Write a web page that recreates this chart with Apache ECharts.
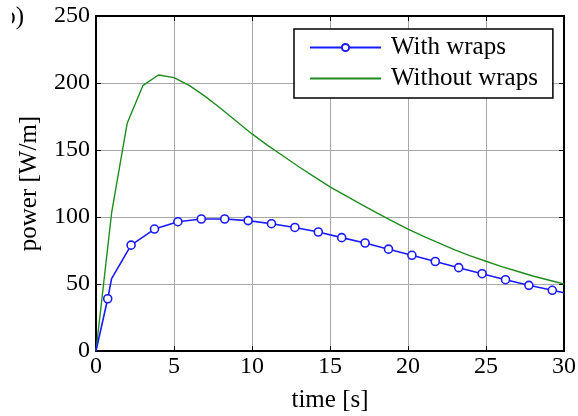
<!DOCTYPE html>
<html>
<head>
<meta charset="utf-8">
<script src="https://cdn.jsdelivr.net/npm/echarts@6/dist/echarts.min.js"></script>
<style>html,body{margin:0;padding:0;background:#fff}#c{width:578px;height:416px}</style>
</head>
<body>
<div id="c"></div>
<script>
// ---- data ----
const xTicks = [0, 5, 10, 15, 20, 25, 30];
const yTicks = [0, 50, 100, 150, 200, 250];
const seriesNames = ['With wraps', 'Without wraps'];

// With wraps (time [s], power [W/m])
const withTime  = [0, 0.75, 1.0, 2.25, 3.75, 5.25, 6.75, 8.25, 9.75, 11.25, 12.75, 14.25, 15.75, 17.25, 18.75, 20.25, 21.75, 23.25, 24.75, 26.25, 27.75, 29.25, 30];
const withPower = [0, 39, 54, 79, 91, 96.5, 98.5, 98.5, 97.3, 95, 92.2, 88.8, 84.6, 80.6, 76, 71.4, 66.8, 62.2, 57.7, 53.2, 49, 45.3, 43.5];

// Without wraps
const withoutTime  = [0, 1, 2, 3, 4, 5, 6, 7, 8, 9, 10, 11, 12, 13, 14, 15, 16, 17, 18, 19, 20, 21, 22, 23, 24, 25, 26, 27, 28, 29, 30];
const withoutPower = [0, 103, 170, 198, 206, 204, 198, 190, 181, 171.5, 162, 153.5, 145.5, 137.5, 130, 122.5, 116, 109.5, 103, 97, 91, 85.5, 80.5, 75.5, 71, 67, 63, 59.5, 56, 53, 50];

// markers are drawn every 1.5 s starting at 0.75 s
function isMarked(t) {
  const k = (t - 0.75) / 1.5;
  return Math.abs(k - Math.round(k)) < 1e-6 && k >= 0;
}
const withData = withTime.map((t, i) => isMarked(t) ? [t, withPower[i]] : { value: [t, withPower[i]], symbol: 'none' });
const withoutData = withoutTime.map((t, i) => [t, withoutPower[i]]);

const FONT = 'Liberation Serif';
const chart = echarts.init(document.getElementById('c'), null, { renderer: 'canvas' });

const baseX = { type: 'value', min: xTicks[0], max: xTicks[xTicks.length - 1], interval: 5 };
const baseY = { type: 'value', min: yTicks[0], max: yTicks[yTicks.length - 1], interval: 50 };

chart.setOption({
  backgroundColor: '#fff',
  animation: false,
  textStyle: { fontFamily: FONT },
  grid: { left: 96, right: 14, top: 16, bottom: 65, show: false, containLabel: false, outerBoundsMode: 'none' },
  graphic: [
    {
      type: 'text', x: 24, y: 5, z: 10,
      style: { text: 'b)', font: '25px "Liberation Serif"', fill: '#000', textAlign: 'right', textVerticalAlign: 'top' }
    },
    {
      type: 'rect', shape: { x: 0, y: 0, width: 12, height: 40 }, z: 11,
      style: { fill: '#fff' }
    }
  ],
  legend: {
    orient: 'vertical',
    left: 294, top: 29,
    data: [
      { name: seriesNames[0] },
      { name: seriesNames[1], itemStyle: { opacity: 0 } }
    ],
    itemWidth: 71, itemHeight: 9, itemGap: 6,
    padding: [6, 15, 7, 15],
    borderColor: '#000', borderWidth: 1.5,
    backgroundColor: '#fff',
    textStyle: { fontFamily: FONT, fontSize: 25, color: '#000', padding: [0, 0, 0, 5] }
  },
  xAxis: [
    Object.assign({}, baseX, {
      position: 'bottom',
      name: 'time [s]', nameLocation: 'middle', nameGap: 37,
      nameTextStyle: { fontFamily: FONT, fontSize: 25, color: '#000' },
      axisLine: { show: true, onZero: false, lineStyle: { color: '#000', width: 2 } },
      axisTick: { show: true, inside: true, length: 5, lineStyle: { color: '#000' } },
      axisLabel: { fontFamily: FONT, fontSize: 24, color: '#000', margin: 4 },
      splitLine: { show: true, lineStyle: { color: '#a8a8a8', width: 1 } }
    }),
    Object.assign({}, baseX, {
      position: 'top',
      axisLine: { show: true, onZero: false, lineStyle: { color: '#000', width: 2 } },
      axisTick: { show: true, inside: true, length: 5, lineStyle: { color: '#000' } },
      axisLabel: { show: false },
      splitLine: { show: false }
    })
  ],
  yAxis: [
    Object.assign({}, baseY, {
      position: 'left',
      name: 'power [W/m]', nameLocation: 'middle', nameGap: 54, nameRotate: 90,
      nameTextStyle: { fontFamily: FONT, fontSize: 25, color: '#000' },
      axisLine: { show: true, onZero: false, lineStyle: { color: '#000', width: 2 } },
      axisTick: { show: true, inside: true, length: 5, lineStyle: { color: '#000' } },
      axisLabel: { fontFamily: FONT, fontSize: 24, color: '#000', margin: 6 },
      splitLine: { show: true, lineStyle: { color: '#a8a8a8', width: 1 } }
    }),
    Object.assign({}, baseY, {
      position: 'right',
      axisLine: { show: true, onZero: false, lineStyle: { color: '#000', width: 2 } },
      axisTick: { show: true, inside: true, length: 5, lineStyle: { color: '#000' } },
      axisLabel: { show: false },
      splitLine: { show: false }
    })
  ],
  series: [
    {
      name: seriesNames[0], type: 'line', data: withData,
      xAxisIndex: 0, yAxisIndex: 0,
      symbol: 'circle', symbolSize: 8, showSymbol: true,
      lineStyle: { color: '#1a1aff', width: 1.6 },
      itemStyle: { color: '#fff', borderColor: '#1a1aff', borderWidth: 1.6 },
      z: 3
    },
    {
      name: seriesNames[1], type: 'line', data: withoutData,
      xAxisIndex: 0, yAxisIndex: 0,
      symbol: 'none', showSymbol: false,
      lineStyle: { color: '#1f8c1f', width: 1.4 },
      itemStyle: { color: '#1f8c1f' },
      z: 2
    }
  ]
});
</script>
</body>
</html>
